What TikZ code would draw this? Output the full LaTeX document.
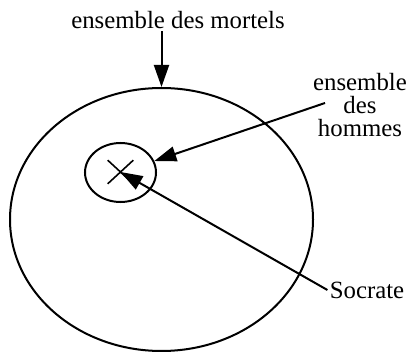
\documentclass[tikz,border=0pt]{standalone}
\usepackage{fontspec}
\setmainfont{Liberation Serif}
\usetikzlibrary{
    shapes.geometric,
    shapes.misc,
    arrows.meta,
    positioning,
    calc
}
\tikzset{
    % Base style for the labels
    set label/.style={
        font=\fontsize{12.4}{11.7}\selectfont,
        align=center,
        inner sep=1pt,
    },
    % Sets drawn as ellipses
    set/.style={
        ellipse,
        draw,
        line width=1pt,
        inner sep=0pt,
    },
    % Element drawn as a cross
    element/.style={
        cross out,
        draw,
        line width=0.8pt,
        inner sep=0pt,
        minimum width=12pt,
        minimum height=11pt,
    },
    % Pointer arrow
    pointer/.style={
        -{Triangle[length=11pt, width=7.5pt]},
        line width=1pt,
    },
}

\begin{document}
\begin{tikzpicture}[x=0.5pt, y=-0.5pt]
    \useasboundingbox (0,0) rectangle (417,352);

    \node (mortels) [set, minimum width=151.5pt, minimum height=131.5pt] at (161.5,219.5) {};
    \node (hommes) [set, minimum width=35.5pt, minimum height=29.5pt] at (120.5,172.5) {};
    \node (socrate) [element] at (120.5,172) {};

    \node (mortels_label) [set label] at (178,20) {ensemble des mortels};
    \node (hommes_label) [set label] at (360,105) {ensemble\\des\\hommes};
    \node (socrate_label) [set label] at (367,290) {Socrate};

    \coordinate (hommes_start) at (325,103);

    \draw [pointer] (mortels.north |- mortels_label.south) -- (mortels.north);
    \draw [pointer] (hommes_start) -- (hommes);
    \draw [pointer] (socrate_label.west) -- (socrate.center);
\end{tikzpicture}
\end{document}
